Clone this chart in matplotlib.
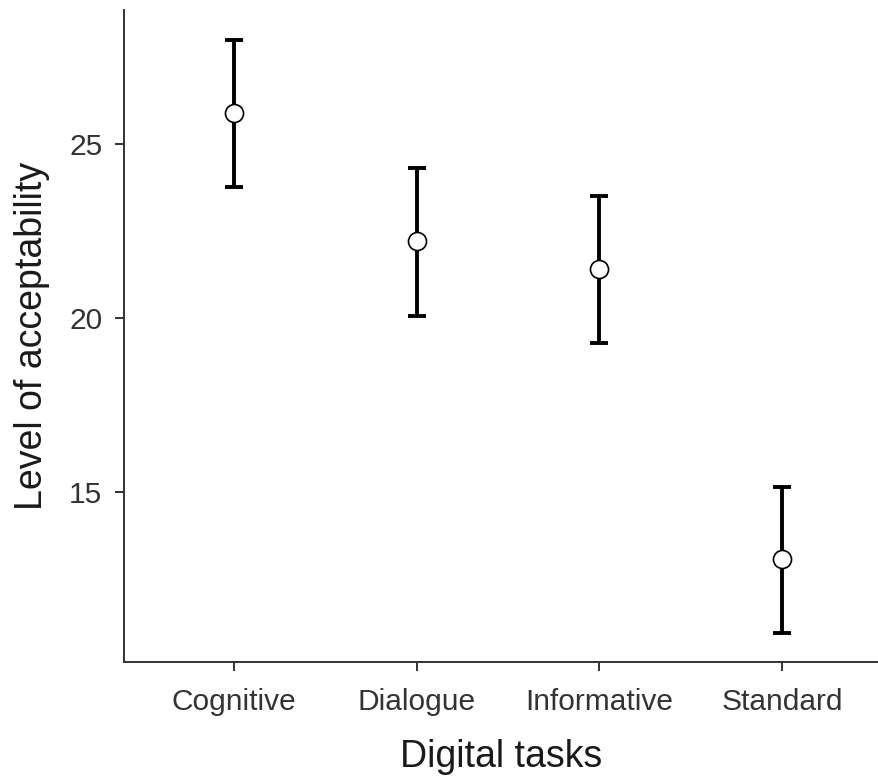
import matplotlib
matplotlib.use("Agg")
import matplotlib.pyplot as plt

tasks = ["Cognitive", "Dialogue", "Informative", "Standard"]
means = [25.89, 22.21, 21.41, 13.05]
upper = [27.99, 24.31, 23.51, 15.14]
lower = [23.76, 20.06, 19.28, 10.92]

plt.rcParams['font.family'] = ['Liberation Sans', 'DejaVu Sans']

fig = plt.figure(figsize=(8.79, 7.78), dpi=100)
ax = fig.add_axes([0.1411, 0.1491, 0.8589, 0.838])

xs = list(range(1, len(tasks) + 1))
err_lo = [m - l for m, l in zip(means, lower)]
err_hi = [u - m for m, u in zip(means, upper)]
ax.errorbar(xs, means, yerr=[err_lo, err_hi], fmt='none', ecolor='black',
            elinewidth=2.8, capsize=6.5, capthick=2.8, zorder=2)
ax.plot(xs, means, 'o', markersize=13, markerfacecolor='white',
        markeredgecolor='black', markeredgewidth=1.2, zorder=3)

ax.set_xlim(0.4, 4.53)
ax.set_ylim(10.1, 28.85)
ax.set_xticks(xs)
ax.set_xticklabels(tasks)
ax.set_yticks([15, 20, 25])

for s in ['top', 'right']:
    ax.spines[s].set_visible(False)
for s in ['left', 'bottom']:
    ax.spines[s].set_color('#333333')
    ax.spines[s].set_linewidth(1.4)
ax.tick_params(axis='both', colors='#333333', labelsize=21.5, length=6.5, width=1.4)
ax.tick_params(axis='x', pad=12)
ax.tick_params(axis='y', pad=9)
ax.set_xlabel("Digital tasks", fontsize=27, color='#1a1a1a', labelpad=17)
ax.set_ylabel("Level of acceptability", fontsize=27, color='#1a1a1a', labelpad=14)

fig.savefig("out.png", dpi=100)
